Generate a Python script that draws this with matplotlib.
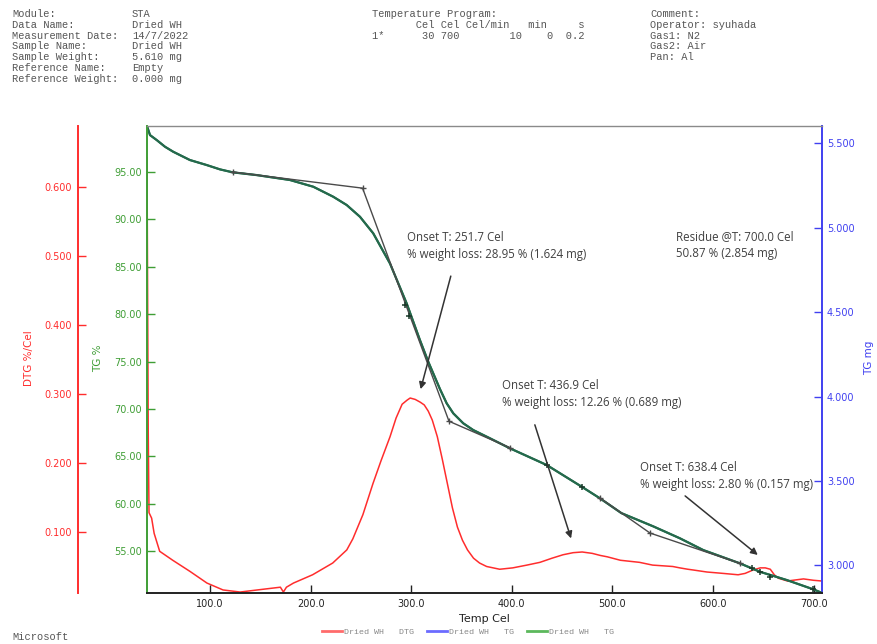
import matplotlib.pyplot as plt
from matplotlib.lines import Line2D
from matplotlib.ticker import FormatStrFormatter

# --- data ---
SAMPLE_MG = 5.610

tg_temp = [37.4, 40.4, 47.0, 55.3, 63.5, 80.0, 96.7, 110.0, 122.6, 146.4, 179.5,
           202.7, 222.6, 235.9, 249.1, 262.3, 278.9, 295.5, 308.7, 317.0, 328.6,
           335.3, 341.9, 351.8, 361.7, 378.3, 398.2, 434.7, 469.5, 487.7, 509.0,
           540.7, 567.2, 590.4, 626.8, 646.7, 673.3, 699.7, 708.0]
tg_pct = [99.85, 98.90, 98.38, 97.67, 97.14, 96.27, 95.74, 95.28, 94.97, 94.68, 94.16,
          93.45, 92.39, 91.52, 90.28, 88.53, 85.36, 81.14, 77.27, 74.98, 72.10,
          70.59, 69.53, 68.48, 67.77, 66.90, 65.84, 64.08, 61.79, 60.56, 59.00,
          57.60, 56.34, 55.10, 53.70, 52.81, 51.94, 50.96, 50.60]

dtg_temp = [37.4, 38.0, 38.6, 39.4, 42.0, 44.5, 50, 63, 80, 97, 113, 130, 147, 170,
            173, 176, 183, 202, 222, 236, 242, 252, 262, 270, 279, 285, 291, 296,
            299, 304, 309, 313, 317, 321, 326, 331, 336, 341, 346, 351, 356, 362,
            368, 375, 388, 401, 415, 428, 440, 451, 461, 470, 480, 488, 495, 508,
            527, 540, 560, 567, 575, 580, 594, 610, 625, 632, 640, 647, 652, 657,
            661, 665, 674, 690, 700, 708]
dtg_val = [0.642, 0.450, 0.250, 0.128, 0.120, 0.098, 0.072, 0.059, 0.043, 0.026,
           0.016, 0.013, 0.016, 0.020, 0.013, 0.020, 0.026, 0.038, 0.055, 0.074,
           0.090, 0.125, 0.170, 0.203, 0.238, 0.265, 0.285, 0.291, 0.294, 0.292,
           0.288, 0.284, 0.275, 0.262, 0.238, 0.205, 0.170, 0.135, 0.107, 0.088,
           0.074, 0.062, 0.055, 0.050, 0.046, 0.048, 0.052, 0.056, 0.062, 0.067,
           0.070, 0.071, 0.069, 0.066, 0.064, 0.059, 0.056, 0.052, 0.050, 0.048,
           0.046, 0.045, 0.042, 0.040, 0.038, 0.040, 0.045, 0.048, 0.048, 0.046,
           0.038, 0.033, 0.029, 0.032, 0.030, 0.029]

# onset construction lines (temp, %)
tangent1 = [(122.6, 95.0), (251.7, 93.3), (337.6, 68.7), (398.2, 65.9)]
tangent2 = [(487.7, 60.6), (537.4, 56.9), (626.8, 53.7)]
curve_marks = [(293.8, 80.96), (297.8, 79.8), (434.7, 64.1), (469.5, 61.8),
               (638.8, 53.2), (646.7, 52.8), (656.6, 52.3), (699.7, 50.96)]

notes = [
    ("Onset T: 251.7 Cel\n% weight loss: 28.95 % (1.624 mg)", (295.8, 87.24), (340.1, 84.3), (308.7, 71.8)),
    ("Onset T: 436.9 Cel\n% weight loss: 12.26 % (0.689 mg)", (390.3, 71.62), (422.1, 68.6), (459.8, 56.05)),
    ("Onset T: 638.4 Cel\n% weight loss: 2.80 % (0.157 mg)", (527.4, 62.92), (570.2, 61.0), (646.7, 54.4)),
    ("Residue @T: 700.0 Cel\n50.87 % (2.854 mg)", (563.2, 87.3), None, None),
]

header_left = [("Module:", "STA"), ("Data Name:", "Dried WH"),
               ("Measurement Date:", "14/7/2022"), ("Sample Name:", "Dried WH"),
               ("Sample Weight:", "5.610 mg"), ("Reference Name:", "Empty"),
               ("Reference Weight:", "0.000 mg")]
header_mid = ["Temperature Program:",
              "       Cel Cel Cel/min   min     s",
              "1*      30 700        10    0  0.2"]
header_right = ["Comment:", "Operator: syuhada", "Gas1: N2", "Gas2: Air", "Pan: Al"]

RED = "#ff2d2d"
GREEN = "#3f9e35"
BLUE = "#4040f0"
CURVE = "#246a4c"
GREY = "#555555"

W, H = 878, 644
fig = plt.figure(figsize=(W / 100, H / 100), dpi=100)
ax = fig.add_axes([147 / W, 1 - 593 / H, 675 / W, 467 / H])
ax_mg = ax.twinx()
ax_dtg = ax.twinx()

ax.set_zorder(3)
ax.patch.set_visible(False)
ax_mg.set_zorder(2)
ax_dtg.set_zorder(1)

# curves
ax_dtg.plot(dtg_temp, dtg_val, color=RED, lw=1.1)
ax_mg.plot(tg_temp, [p * SAMPLE_MG / 100 for p in tg_pct], color=CURVE, lw=1.6)
ax.plot(tg_temp, tg_pct, color=CURVE, lw=1.4)

for seg in (tangent1, tangent2):
    ax.plot([p[0] for p in seg], [p[1] for p in seg], color="#4a4a4a", lw=1.0,
            marker="+", ms=5, mew=1.0)
ax.plot([p[0] for p in curve_marks], [p[1] for p in curve_marks], ls="none",
        marker="+", ms=5, mew=1.1, color="#1a3a2a")

for text, pos, start, end in notes:
    ax.text(pos[0], pos[1], text, ha="left", va="center", fontsize=8.3,
            family="Open Sans", color="#404040", linespacing=1.4)
    if start is not None:
        ax.annotate("", xy=end, xytext=start,
                    arrowprops=dict(arrowstyle="-|>", color="#333333", lw=1.1,
                                    mutation_scale=10))

# limits
x_lo, x_hi = 37.4, 708.4
pct_lo, pct_hi = 50.57, 99.86
ax.set_xlim(x_lo, x_hi)
ax.set_ylim(pct_lo, pct_hi)
ax_mg.set_ylim(pct_lo * SAMPLE_MG / 100, pct_hi * SAMPLE_MG / 100)
ax_dtg.set_ylim(0.0116, 0.688)

ax.set_xticks([100, 200, 300, 400, 500, 600, 700])
ax.xaxis.set_major_formatter(FormatStrFormatter("%.1f"))
ax.set_yticks([55, 60, 65, 70, 75, 80, 85, 90, 95])
ax.yaxis.set_major_formatter(FormatStrFormatter("%.2f"))
ax_mg.set_yticks([3.0, 3.5, 4.0, 4.5, 5.0, 5.5])
ax_mg.yaxis.set_major_formatter(FormatStrFormatter("%.3f"))
ax_dtg.set_yticks([0.1, 0.2, 0.3, 0.4, 0.5, 0.6])
ax_dtg.yaxis.set_major_formatter(FormatStrFormatter("%.3f"))

# spines
for a in (ax_mg, ax_dtg):
    for s in a.spines.values():
        s.set_visible(False)
ax.spines["right"].set_visible(False)
ax.spines["top"].set_color("#8a8a8a")
ax.spines["top"].set_linewidth(1.0)
ax.spines["bottom"].set_color("#222222")
ax.spines["bottom"].set_linewidth(1.4)
ax.spines["left"].set_color(GREEN)
ax.spines["left"].set_linewidth(1.4)
ax_mg.spines["right"].set_visible(True)
ax_mg.spines["right"].set_color(BLUE)
ax_mg.spines["right"].set_linewidth(1.4)

ax_dtg.yaxis.tick_left()
ax_dtg.yaxis.set_label_position("left")
ax_dtg.spines["left"].set_visible(True)
ax_dtg.spines["left"].set_position(("axes", -69 / 675))
ax_dtg.spines["left"].set_color(RED)
ax_dtg.spines["left"].set_linewidth(1.4)

tick_kw = dict(direction="in", length=5.5, width=1.0, labelsize=7)
ax.tick_params(axis="x", colors="#222222", pad=4, **tick_kw)
ax.tick_params(axis="y", colors=GREEN, pad=3.5, **tick_kw)
ax_mg.tick_params(axis="y", colors=BLUE, pad=3.5, **tick_kw)
ax_dtg.tick_params(axis="y", colors=RED, pad=4.3, **tick_kw)

ax.set_xlabel("Temp Cel", fontsize=8, color="#222222")
ax.xaxis.set_label_coords(0.5, -0.044)
ax.set_ylabel("TG %", fontsize=7.5, color=GREEN)
ax.yaxis.set_label_coords(-44 / 675, 0.503)
ax_mg.set_ylabel("TG mg", fontsize=7.5, color=BLUE)
ax_mg.yaxis.set_label_coords(1 + 42 / 675, 0.503)
ax_dtg.set_ylabel("DTG %/Cel", fontsize=7.5, color=RED)
ax_dtg.yaxis.set_label_coords(-113 / 675, 0.503)

# header block
mono = dict(family="Liberation Mono", fontsize=7.5, color=GREY, va="center")
for i, (k, v) in enumerate(header_left):
    y = 1 - (14 + 10.8 * i) / H
    fig.text(12 / W, y, k, **mono)
    fig.text(132 / W, y, v, **mono)
for i, line in enumerate(header_mid):
    fig.text(372 / W, 1 - (14 + 10.8 * i) / H, line, **mono)
for i, line in enumerate(header_right):
    fig.text(650 / W, 1 - (14 + 10.8 * i) / H, line, **mono)
fig.text(12 / W, 1 - 637 / H, "Microsoft", **mono)

# legend
handles = [Line2D([], [], color="#ff6b6b", lw=2),
           Line2D([], [], color="#6b6bff", lw=2),
           Line2D([], [], color="#5cb85c", lw=2)]
labels = ["Dried WH   DTG", "Dried WH   TG", "Dried WH   TG"]
fig.legend(handles, labels, loc="center", bbox_to_anchor=(468 / W, 1 - 632 / H),
           ncol=3, frameon=False, handlelength=2.4, handletextpad=0.2,
           columnspacing=1.6, prop=dict(family="Liberation Mono", size=6),
           labelcolor="#888888")

fig.savefig("out.png", dpi=100)
